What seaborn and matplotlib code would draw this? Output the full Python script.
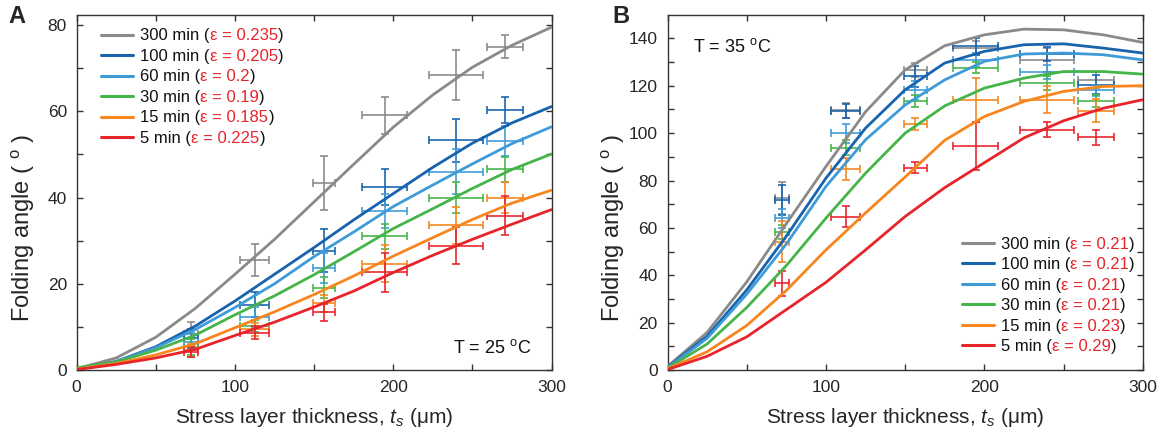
import numpy as np
import pandas as pd
import matplotlib
matplotlib.use("Agg")
import matplotlib.pyplot as plt
import seaborn as sns
from matplotlib.offsetbox import AnchoredOffsetbox, TextArea, HPacker, VPacker, DrawingArea
from matplotlib.lines import Line2D

# ---------------- data ----------------
series = ["300", "100", "60", "30", "15", "5"]
eps_A = ["0.235", "0.205", "0.2", "0.19", "0.185", "0.225"]
eps_B = ["0.21", "0.21", "0.21", "0.21", "0.23", "0.29"]
colors = ["#8a8a8a", "#1763ad", "#3f9bd8", "#45b449", "#f7861f", "#e8242b"]

x_curve = [0, 25, 50, 75, 100, 125, 150, 175, 200, 225, 250, 275, 300]
curve_A_300 = [0.3, 2.8, 7.6, 14.3, 22.2, 30.3, 39.0, 47.7, 56.3, 63.8, 70.2, 75.3, 79.5]
curve_A_100 = [0.2, 2.0, 5.4, 10.2, 16.0, 22.2, 28.4, 34.8, 40.9, 47.0, 52.6, 57.3, 61.1]
curve_A_60 = [0.2, 1.9, 5.2, 9.4, 14.5, 20.0, 26.3, 32.0, 37.9, 42.9, 47.8, 52.5, 56.4]
curve_A_30 = [0.5, 1.9, 4.6, 8.1, 12.8, 17.2, 22.1, 27.4, 32.8, 37.4, 42.1, 46.5, 50.1]
curve_A_15 = [0.2, 1.5, 3.5, 6.1, 9.8, 13.5, 17.5, 21.8, 26.4, 30.7, 34.9, 38.7, 41.7]
curve_A_5 = [0.1, 1.3, 2.8, 4.8, 8.0, 11.1, 14.6, 18.3, 22.6, 26.6, 30.3, 33.8, 37.2]

curve_B_300 = [1.5, 15.9, 37.2, 61.8, 85.9, 109.0, 126.7, 136.9, 141.5, 143.9, 143.6, 141.5, 138.3]
curve_B_100 = [1.2, 14.3, 33.8, 56.5, 81.0, 102.1, 118.3, 129.6, 134.5, 137.3, 137.7, 135.9, 133.8]
curve_B_60 = [1.0, 13.4, 32.0, 53.2, 77.5, 97.2, 111.9, 122.5, 130.3, 133.4, 133.8, 133.1, 130.9]
curve_B_30 = [0.8, 11.0, 26.4, 44.1, 64.1, 83.1, 100.0, 111.5, 119.0, 123.2, 126.0, 126.0, 124.9]
curve_B_15 = [0.5, 7.7, 18.8, 33.6, 50.7, 66.3, 81.5, 97.0, 107.0, 113.4, 117.6, 119.7, 120.0]
curve_B_5 = [0.2, 5.8, 14.0, 25.5, 37.0, 50.7, 64.8, 77.0, 87.5, 98.0, 105.2, 110.5, 114.1]

x_pts = [72, 112.5, 156.5, 194.5, 239.5, 270.5]
x_err = [4.4, 9.3, 7.0, 14.3, 17.0, 11.5]

pts_A_300 = [8.4, 25.6, 43.4, 59.1, 68.4, 75.0]
err_A_300 = [2.7, 3.7, 6.3, 4.3, 5.7, 2.6]
pts_A_100 = [7.4, 15.1, 27.7, 42.4, 53.3, 60.3]
err_A_100 = [2.2, 2.9, 5.0, 4.1, 5.0, 3.1]
pts_A_60 = [6.6, 12.2, 23.7, 36.9, 46.0, 53.2]
err_A_60 = [2.0, 2.5, 3.5, 4.0, 5.2, 3.5]
pts_A_30 = [5.3, 10.2, 19.1, 31.0, 40.0, 46.6]
err_A_30 = [1.8, 1.5, 2.5, 2.9, 3.7, 2.9]
pts_A_15 = [4.6, 9.4, 15.5, 24.6, 33.6, 40.0]
err_A_15 = [1.5, 1.5, 2.0, 4.3, 4.3, 3.7]
pts_A_5 = [4.2, 8.6, 13.4, 22.7, 28.8, 35.8]
err_A_5 = [1.2, 1.5, 2.0, 4.5, 4.3, 4.6]

pts_B_300 = [72.5, 109.6, 126.7, 135.8, 131.0, 122.5]
err_B_300 = [6.7, 3.2, 3.0, 3.0, 5.0, 3.5]
pts_B_100 = [71.8, 109.3, 124.0, 136.6, 133.3, 120.5]
err_B_100 = [6.5, 3.0, 4.5, 3.5, 3.0, 4.0]
pts_B_60 = [64.1, 100.0, 118.0, 131.0, 125.9, 118.0]
err_B_60 = [4.0, 4.0, 4.0, 3.0, 3.0, 2.5]
pts_B_30 = [58.2, 93.9, 113.6, 127.7, 121.1, 113.4]
err_B_30 = [3.0, 3.0, 2.5, 2.5, 3.0, 2.5]
pts_B_15 = [54.2, 84.9, 103.7, 114.1, 114.1, 109.5]
err_B_15 = [8.5, 4.5, 2.5, 9.2, 5.8, 5.0]
pts_B_5 = [36.6, 64.8, 85.4, 94.6, 101.4, 98.3]
err_B_5 = [5.2, 4.4, 2.2, 10.0, 3.1, 3.2]

curves_A = [curve_A_300, curve_A_100, curve_A_60, curve_A_30, curve_A_15, curve_A_5]
curves_B = [curve_B_300, curve_B_100, curve_B_60, curve_B_30, curve_B_15, curve_B_5]
pts_A = [pts_A_300, pts_A_100, pts_A_60, pts_A_30, pts_A_15, pts_A_5]
errs_A = [err_A_300, err_A_100, err_A_60, err_A_30, err_A_15, err_A_5]
pts_B = [pts_B_300, pts_B_100, pts_B_60, pts_B_30, pts_B_15, pts_B_5]
errs_B = [err_B_300, err_B_100, err_B_60, err_B_30, err_B_15, err_B_5]

# ---------------- style ----------------
sns.set_style("ticks")
plt.rcParams["font.family"] = ["Liberation Sans", "DejaVu Sans"]
plt.rcParams["mathtext.fontset"] = "custom"
plt.rcParams["mathtext.rm"] = "Liberation Sans"
plt.rcParams["mathtext.it"] = "Liberation Sans:italic"
plt.rcParams["mathtext.default"] = "regular"

EPS_RED = "#e8242b"
palette = dict(zip(series, colors))

fig = plt.figure(figsize=(11.65, 4.37), dpi=100)
axA = fig.add_axes([0.0658, 0.1533, 0.4076, 0.8131])
axB = fig.add_axes([0.5730, 0.1533, 0.4079, 0.8131])


def draw_panel(ax, curves, pts, errs):
    df = pd.DataFrame({
        "x": np.concatenate([x_curve] * len(series)),
        "angle": np.concatenate(curves),
        "series": np.repeat(series, len(x_curve)),
    })
    for s, c, p, e in zip(series, colors, pts, errs):
        ax.errorbar(x_pts, p, xerr=x_err, yerr=e, fmt="none", ecolor=c,
                    elinewidth=1.3, capsize=3, capthick=1.3, alpha=0.9, zorder=2)
    sns.lineplot(data=df, x="x", y="angle", hue="series", hue_order=series,
                 palette=palette, linewidth=2.0, legend=False, ax=ax,
                 estimator=None, sort=True, zorder=3)
    for ln in ax.get_lines():
        ln.set_solid_joinstyle("round")


def style_axes(ax, ymax, ymajor, yminor, ylab_x):
    ax.set_xlim(0, 300)
    ax.set_ylim(0, ymax)
    ax.set_xticks([0, 100, 200, 300])
    ax.set_xticks([50, 150, 250], minor=True)
    ax.set_yticks(ymajor)
    ax.set_yticks(yminor, minor=True)
    ax.tick_params(which="both", direction="in", top=True, right=True,
                   length=4.5, width=1, color="#333333", labelsize=12.5, pad=7)
    for sp in ax.spines.values():
        sp.set_visible(True)
        sp.set_linewidth(1.0)
        sp.set_color("#333333")
    ax.set_xlabel("Stress layer thickness, $\\mathit{t_s}$ (\u03bcm)", fontsize=15, labelpad=8)
    ax.set_ylabel("Folding angle ( $^{o}$ )", fontsize=17)
    ax.yaxis.set_label_coords(ylab_x, 0.40)


def add_legend(ax, eps, loc, anchor):
    rows = []
    for s, c, e in zip(series, colors, eps):
        da = DrawingArea(23, 9, 0, 0)
        da.add_artist(Line2D([0, 23], [4.0, 4.0], color=c, lw=2.2))
        t1 = TextArea(f"{s} min (", textprops=dict(color="#111111", size=12))
        t2 = TextArea(f"\u03b5 = {e}", textprops=dict(color=EPS_RED, size=12))
        t3 = TextArea(")", textprops=dict(color="#111111", size=12))
        txt = HPacker(children=[t1, t2, t3], align="baseline", pad=0, sep=0)
        rows.append(HPacker(children=[da, txt], align="baseline", pad=0, sep=5))
    box = VPacker(children=rows, align="left", pad=0, sep=3.6)
    ab = AnchoredOffsetbox(loc=loc, child=box, pad=0, borderpad=0, frameon=False,
                           bbox_to_anchor=anchor, bbox_transform=ax.transAxes)
    ax.add_artist(ab)


draw_panel(axA, curves_A, pts_A, errs_A)
draw_panel(axB, curves_B, pts_B, errs_B)
style_axes(axA, 82.4, [0, 20, 40, 60, 80], [10, 30, 50, 70], -0.083)
style_axes(axB, 150, list(range(0, 141, 20)), list(range(10, 150, 20)), -0.086)

add_legend(axA, eps_A, "upper left", (0.052, 0.963))
add_legend(axB, eps_B, "lower left", (0.619, 0.045))

axA.text(0.793, 0.062, "T = 25 $^{o}$C", transform=axA.transAxes, fontsize=13,
         ha="left", va="center", color="#111111")
axB.text(0.054, 0.909, "T = 35 $^{o}$C", transform=axB.transAxes, fontsize=13,
         ha="left", va="center", color="#111111")

fig.text(0.007, 0.988, "A", fontsize=17, fontweight="bold", ha="left", va="top")
fig.text(0.526, 0.988, "B", fontsize=17, fontweight="bold", ha="left", va="top")

fig.savefig("out.png", dpi=100)
